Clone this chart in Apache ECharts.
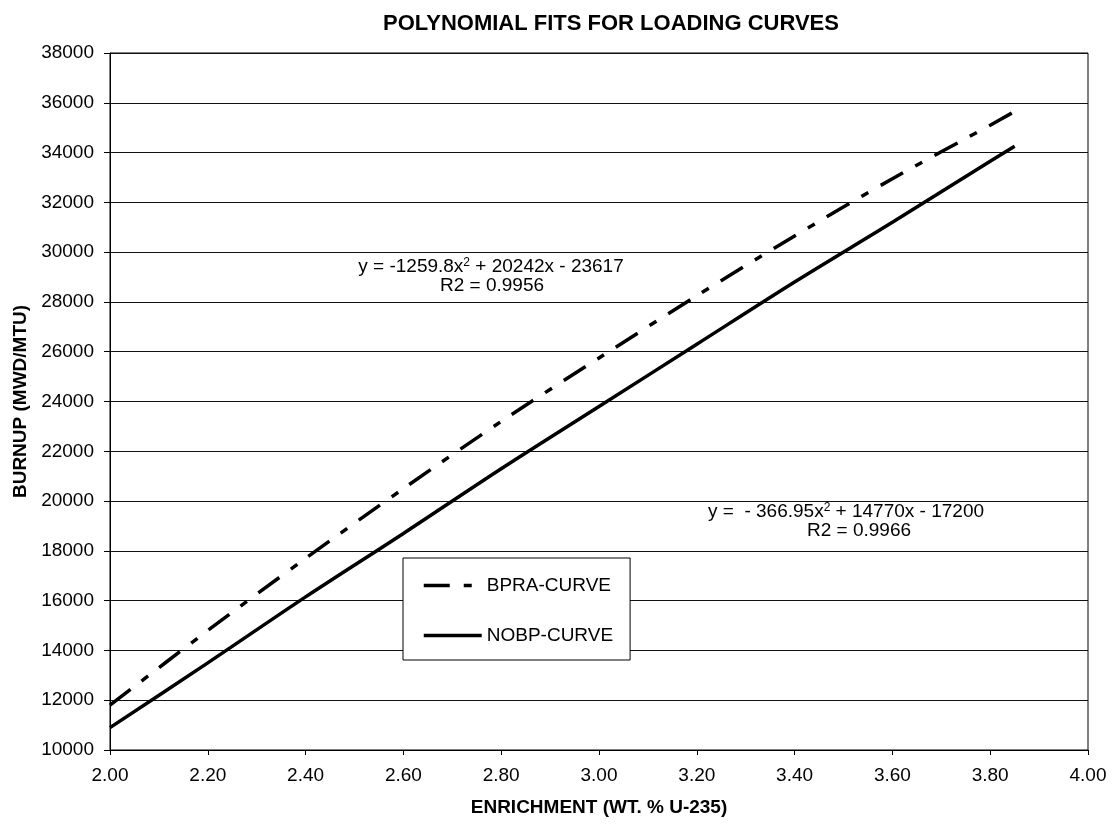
<!DOCTYPE html>
<html>
<head>
<meta charset="utf-8">
<script src="https://cdn.jsdelivr.net/npm/echarts@6/dist/echarts.min.js"></script>
<style>
  html, body { margin: 0; padding: 0; background: #fff; }
  #chart { width: 1116px; height: 824px; }
</style>
</head>
<body>
<div id="chart"></div>
<script>
// values
var enrichment = [2.0, 2.2, 2.4, 2.6, 2.8, 3.0, 3.2, 3.4, 3.6, 3.8, 3.85];
var bpraBurnup = [11800, 14800, 17700, 20500, 23200, 25750, 28250, 30650, 32950, 35100, 35650];
var nobpBurnup = [10900, 13500, 16150, 18700, 21300, 23800, 26300, 28800, 31200, 33650, 34250];
var seriesNames = ['BPRA-CURVE', 'NOBP-CURVE'];
var fitBpra = ['y = -1259.8x{sup|2} + 20242x - 23617', 'R2 = 0.9956'];
var fitNobp = ['y =  - 366.95x{sup|2} + 14770x - 17200', 'R2 = 0.9966'];

var FONT = "'Liberation Sans', Arial, sans-serif";

function pairs(xs, ys){
    var out = [];
    for(var i=0;i<xs.length;i++){
        out.push([xs[i], ys[i]]);
    }
    return out;
}

// one text element per line, each centred on its own x
function fitText(lines, xs, y){
    var els = [];
    for(var i=0;i<lines.length;i++){
        els.push({
            type: 'text',
            x: xs[i], y: y + i*19,
            z: 50,
            style: {
                text: lines[i],
                align: 'center',
                verticalAlign: 'top',
                font: '19px ' + FONT,
                fill: '#000',
                lineHeight: 19,
                rich: {
                    sup: { fontSize: 12, fontFamily: FONT, verticalAlign: 'top', lineHeight: 19, fill: '#000' }
                }
            }
        });
    }
    return els;
}

var myChart = echarts.init(document.getElementById('chart'));
var option = {
    backgroundColor: '#fff',
    animation: false,
    textStyle: { fontFamily: FONT, color: '#000' },
    title: {
        text: 'POLYNOMIAL FITS FOR LOADING CURVES',
        left: 378, top: 8,
        textStyle: { fontSize: 22, fontWeight: 'bold', color: '#000', fontFamily: FONT }
    },
    grid: {
        left: 110, right: 28, top: 53, bottom: 74,
        show: true, borderColor: '#000', borderWidth: 1
    },
    legend: {
        orient: 'vertical',
        left: 403, top: 558,
        padding: [18, 17, 15, 19],
        itemWidth: 58, itemHeight: 19, itemGap: 31,
        borderColor: '#000', borderWidth: 1,
        backgroundColor: '#fff',
        z: 20,
        itemStyle: { opacity: 0 },
        lineStyle: { width: 3.5 },
        textStyle: { fontSize: 19, color: '#000', fontFamily: FONT },
        data: seriesNames
    },
    xAxis: {
        type: 'value',
        min: 2, max: 4, interval: 0.2,
        name: 'ENRICHMENT (WT. % U-235)',
        nameLocation: 'middle', nameGap: 48,
        nameTextStyle: { fontSize: 19, fontWeight: 'bold', color: '#000', fontFamily: FONT },
        axisLine: { lineStyle: { color: '#000', width: 1 } },
        axisTick: { show: true, inside: false, length: 5, lineStyle: { color: '#000' } },
        axisLabel: {
            fontSize: 19, color: '#000', margin: 16,
            formatter: function(v){ return v.toFixed(2); }
        },
        splitLine: { show: false }
    },
    yAxis: {
        type: 'value',
        min: 10000, max: 38000, interval: 2000,
        name: 'BURNUP (MWD/MTU)',
        nameLocation: 'middle', nameGap: 78,
        nameTextStyle: { fontSize: 19, fontWeight: 'bold', color: '#000', fontFamily: FONT },
        axisLine: { show: true, lineStyle: { color: '#000', width: 1 } },
        axisTick: { show: true, inside: false, length: 6, lineStyle: { color: '#000' } },
        axisLabel: {
            fontSize: 19, color: '#000', margin: 16,
            formatter: function(v){ return String(v); }
        },
        splitLine: { show: true, lineStyle: { color: '#111', width: 1 } }
    },
    series: [{
        name: seriesNames[0],
        type: 'line',
        data: pairs(enrichment, bpraBurnup),
        smooth: 0.3,
        symbol: 'none',
        lineStyle: { color: '#000', width: 3.5, type: [26, 14, 8, 14], cap: 'butt' },
        itemStyle: { color: '#000' }
    },{
        name: seriesNames[1],
        type: 'line',
        data: pairs(enrichment, nobpBurnup),
        smooth: 0.3,
        symbol: 'none',
        lineStyle: { color: '#000', width: 3.5, type: 'solid' },
        itemStyle: { color: '#000' }
    }],
    graphic: fitText(fitBpra, [491, 492], 257).concat(fitText(fitNobp, [846, 859], 502))
};
myChart.setOption(option);
</script>
</body>
</html>
